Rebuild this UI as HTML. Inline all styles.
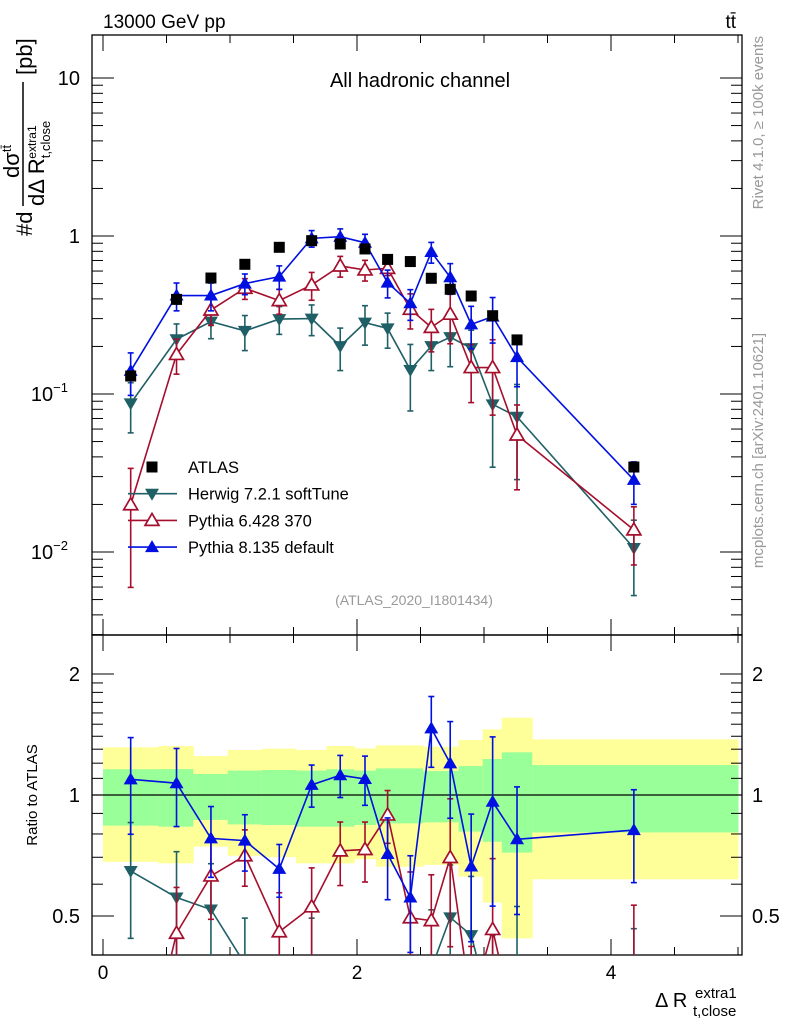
<!DOCTYPE html>
<html><head><meta charset="utf-8"><style>
html,body{margin:0;padding:0;background:#fff;width:786px;height:1024px;overflow:hidden;}
svg{display:block;font-family:"Liberation Sans",Arial,sans-serif;}
</style></head><body>
<svg id="chart" width="786" height="1024" viewBox="0 0 786 1024" xmlns="http://www.w3.org/2000/svg">
<defs>
<clipPath id="clipMain"><rect x="92" y="35" width="650" height="600"/></clipPath>
<clipPath id="clipRatio"><rect x="92" y="635" width="650" height="320"/></clipPath>
</defs>
<g id="bands" clip-path="url(#clipRatio)"></g>
<g id="axes"></g>
<g id="series-main" clip-path="url(#clipMain)"></g>
<g id="series-ratio" clip-path="url(#clipRatio)"></g>
<text x="103" y="28" font-size="19">13000 GeV pp</text>
<text x="736" y="28" font-size="19" text-anchor="end">tt̄</text>
<text x="420" y="87" font-size="20" text-anchor="middle">All hadronic channel</text>
<text x="414" y="605" font-size="14" fill="#999" text-anchor="middle">(ATLAS_2020_I1801434)</text>
<g transform="rotate(-90)" fill="#999" font-size="15">
<text x="-36" y="763" text-anchor="end">Rivet 4.1.0, ≥ 100k events</text>
<text x="-333" y="763" text-anchor="end">mcplots.cern.ch [arXiv:2401.10621]</text>
</g>
<g transform="rotate(-90)" font-size="22">
<text x="-236" y="32">#d</text>
<line x1="-206" x2="-82" y1="23" y2="23" stroke="#000" stroke-width="1.5"/>
<text x="-178" y="19">dσ<tspan font-size="13" dy="-8">tt̄</tspan></text>
<text x="-206" y="44">dΔ R<tspan font-size="13" dy="6">t,close</tspan><tspan font-size="12" dy="-14" dx="-38">extra1</tspan></text>
<text x="-75" y="32">[pb]</text>
</g>
<text transform="translate(37,795) rotate(-90)" font-size="15" text-anchor="middle">Ratio to ATLAS</text>
<g font-size="20">
<text x="655" y="1007">Δ R</text>
<text x="695" y="998" font-size="15">extra1</text>
<text x="693" y="1016" font-size="15">t,close</text>
</g>
<g id="legend"></g>
</svg>
<script>
// ---- data ----
const xVals = [0.218,0.579,0.85,1.117,1.388,1.643,1.868,2.063,2.241,2.42,2.585,2.734,2.899,3.068,3.26,4.18];
const atlasVals = [0.130,0.397,0.542,0.662,0.848,0.934,0.89,0.828,0.711,0.689,0.54,0.46,0.417,0.313,0.22,0.0345];
const herwigVals = [0.0873,0.222,0.287,0.251,0.298,0.30,0.201,0.283,0.26,0.142,0.201,0.229,0.195,0.086,0.0718,0.0106];
const herwigErr = [0.35,0.25,0.22,0.25,0.2,0.22,0.3,0.28,0.25,0.45,0.3,0.35,0.3,0.6,0.6,0.5];
const py6Vals = [0.0199,0.178,0.34,0.467,0.39,0.49,0.646,0.61,0.624,0.344,0.264,0.32,0.147,0.147,0.055,0.0138];
const py6Err = [0.7,0.25,0.2,0.15,0.18,0.2,0.15,0.15,0.1,0.25,0.3,0.35,0.4,0.5,0.55,0.4];
const py8Vals = [0.14,0.42,0.42,0.50,0.553,0.966,0.99,0.907,0.507,0.375,0.792,0.548,0.276,0.309,0.171,0.0286];
const py8Err = [0.3,0.2,0.2,0.15,0.17,0.12,0.12,0.13,0.2,0.22,0.15,0.22,0.3,0.32,0.35,0.3];
const ratioHerwig = [0.647,0.556,0.519,0.38,0.35,0.38,0.23,0.3,0.3,0.2,0.37,0.496,0.448,0.28,0.33,0.31];
const ratioHerwigErr = [0.32,0.3,0.3,0.3,0.3,0.3,0.3,0.3,0.3,0.4,0.4,0.35,0.4,0.6,0.6,0.5];
const ratioPy6 = [0.15,0.453,0.629,0.706,0.457,0.527,0.726,0.732,0.892,0.495,0.487,0.699,0.3,0.463,0.25,0.38];
const ratioPy6Err = [0.7,0.3,0.22,0.16,0.25,0.25,0.18,0.17,0.15,0.3,0.3,0.4,0.4,0.5,0.55,0.4];
const ratioPy8 = [1.094,1.07,0.78,0.77,0.655,1.06,1.12,1.096,0.713,0.556,1.465,1.199,0.664,0.962,0.776,0.818];
const ratioPy8Err = [0.27,0.22,0.2,0.16,0.15,0.12,0.12,0.14,0.23,0.27,0.2,0.27,0.35,0.45,0.35,0.26];
const bandEdges = [0,0.436,0.711,0.982,1.25,1.52,1.76,1.98,2.15,2.52,2.80,2.99,3.14,3.38,5.0];
const yellowHi = [1.314,1.324,1.25,1.294,1.304,1.294,1.324,1.306,1.329,1.319,1.37,1.456,1.557,1.375];
const yellowLo = [0.682,0.676,0.744,0.706,0.70,0.676,0.676,0.692,0.663,0.67,0.626,0.54,0.44,0.617];
const greenHi = [1.159,1.16,1.128,1.15,1.154,1.15,1.159,1.15,1.165,1.147,1.18,1.229,1.277,1.187];
const greenLo = [0.839,0.834,0.867,0.845,0.842,0.834,0.834,0.842,0.85,0.855,0.811,0.765,0.719,0.807];
const xTickLabels = ["0","2","4"];
const mainTickLabels = [{v:10,t:"10"},{v:1,t:"1"},{v:0.1,t:"10",e:"−1"},{v:0.01,t:"10",e:"−2"}];
const ratioTickLabels = [{v:2,t:"2"},{v:1,t:"1"},{v:0.5,t:"0.5"}];

// ---- scales ----
const L=92,R=742,MT=35,MB=635,RB=955;
const X=d=>103+127*d;
const Y=v=>236-158*Math.log10(v);
const YR=r=>795-402*Math.log10(r);
const NS="http://www.w3.org/2000/svg";
function mk(tag,attrs,parent){const e=document.createElementNS(NS,tag);for(const k in attrs)e.setAttribute(k,attrs[k]);parent.appendChild(e);return e;}
const bands=document.getElementById('bands'),axes=document.getElementById('axes');
const gm=document.getElementById('series-main'),gr=document.getElementById('series-ratio'),leg=document.getElementById('legend');

for(let i=0;i<yellowHi.length;i++){
  const x0=X(bandEdges[i]),x1=X(bandEdges[i+1]);
  const y=mk('rect',{x:x0,y:YR(yellowHi[i]),width:x1-x0+0.5,height:YR(yellowLo[i])-YR(yellowHi[i]),fill:'#ffff99'},bands);
  
  
  const g=mk('rect',{x:x0,y:YR(greenHi[i]),width:x1-x0+0.5,height:YR(greenLo[i])-YR(greenHi[i]),fill:'#99ff99'},bands);
  
  
}
const ul=mk('line',{x1:L,x2:R,y1:YR(1),y2:YR(1),stroke:'#000','stroke-width':1.2},axes);



const f1=mk('rect',{x:L,y:MT,width:R-L,height:MB-MT,fill:'none',stroke:'#000','stroke-width':1.3},axes);


const f2=mk('rect',{x:L,y:MB,width:R-L,height:RB-MB,fill:'none',stroke:'#000','stroke-width':1.3},axes);



for(let k=0;k<=10;k++){
  const d=k*0.5,x=X(d),len=(k%4===0)?16:8;
  [[MT,1],[MB,-1],[MB,1],[RB,-1]].forEach(([y0,s])=>{mk('line',{x1:x,x2:x,y1:y0,y2:y0+s*len,stroke:'#000','stroke-width':1},axes);});
}
xTickLabels.forEach((t,i)=>{const e=mk('text',{x:X(i*2),y:979,'font-size':19,'text-anchor':'middle'},axes);e.textContent=t;
  
  });
for(let p=-3;p<=1;p++){for(let m=1;m<=9;m++){const v=m*Math.pow(10,p),y=Y(v);if(y<MT||y>MB)continue;const len=m===1?22:11;
  mk('line',{x1:L,x2:L+len,y1:y,y2:y,stroke:'#000'},axes);mk('line',{x1:R,x2:R-len,y1:y,y2:y,stroke:'#000'},axes);}}
mainTickLabels.forEach(o=>{const e=mk('text',{x:o.e?68:80,y:Y(o.v)+7,'font-size':20,'text-anchor':'end'},axes);e.textContent=o.t;
  if(o.e){const s=mk('tspan',{'font-size':13,dy:-9},e);s.textContent=o.e;}
  
  });
[0.4,0.5,0.6,0.7,0.8,0.9,1,1.1,1.2,1.3,1.4,1.5,1.6,1.7,1.8,1.9,2].forEach(v=>{const y=YR(v);const len=(v===0.5||v===1||v===2)?22:11;
  mk('line',{x1:L,x2:L+len,y1:y,y2:y,stroke:'#000'},axes);mk('line',{x1:R,x2:R-len,y1:y,y2:y,stroke:'#000'},axes);});
ratioTickLabels.forEach(o=>{
  const e=mk('text',{x:80,y:YR(o.v)+7,'font-size':20,'text-anchor':'end'},axes);e.textContent=o.t;
  
  
  const e2=mk('text',{x:752,y:YR(o.v)+7,'font-size':20},axes);e2.textContent=o.t;
  
  });

function marker(type,x,y,col,parent){
  let e;
  if(type==='sq')e=mk('rect',{x:x-5.5,y:y-5.5,width:11,height:11,fill:col},parent);
  else if(type==='up')e=mk('polygon',{points:`${x-7},${y+5} ${x+7},${y+5} ${x},${y-7}`,fill:col},parent);
  else if(type==='down')e=mk('polygon',{points:`${x-7},${y-5} ${x+7},${y-5} ${x},${y+7}`,fill:col},parent);
  else e=mk('polygon',{points:`${x-7},${y+5} ${x+7},${y+5} ${x},${y-7}`,fill:'#fff',stroke:col,'stroke-width':1.7},parent);
  return e;
}
function series(vals,errs,col,type,ys,parent,name){
  const pts=vals.map((v,i)=>X(xVals[i])+','+ys(v)).join(' ');
  const pl=mk('polyline',{points:pts,fill:'none',stroke:col,'stroke-width':1.6},parent);
  
  
  vals.forEach((v,i)=>{
    const x=X(xVals[i]);
    if(errs){const y1=ys(v*(1+errs[i])),y2=ys(Math.max(v*(1-errs[i]),1e-4));
      mk('line',{x1:x,x2:x,y1:y1,y2:y2,stroke:col,'stroke-width':1.6},parent);
      mk('line',{x1:x-3,x2:x+3,y1:y1,y2:y1,stroke:col,'stroke-width':1.6},parent);
      mk('line',{x1:x-3,x2:x+3,y1:y2,y2:y2,stroke:col,'stroke-width':1.6},parent);}
    const m=marker(type,x,ys(v),col,parent);
    
    
  });
}
const cH='#1f5f66',c6='#a50f2d',c8='#0010e0';
series(herwigVals,herwigErr,cH,'down',Y,gm,'herwig');
series(py6Vals,py6Err,c6,'open',Y,gm,'pythia6');
series(py8Vals,py8Err,c8,'up',Y,gm,'pythia8');
atlasVals.forEach((v,i)=>{const m=marker('sq',X(xVals[i]),Y(v),'#000',gm);
  
  });
series(ratioHerwig,ratioHerwigErr,cH,'down',YR,gr,'herwig-ratio');
series(ratioPy6,ratioPy6Err,c6,'open',YR,gr,'pythia6-ratio');
series(ratioPy8,ratioPy8Err,c8,'up',YR,gr,'pythia8-ratio');

const legItems=[['ATLAS','#000','sq',false],['Herwig 7.2.1 softTune',cH,'down',true],['Pythia 6.428 370',c6,'open',true],['Pythia 8.135 default',c8,'up',true]];
legItems.forEach((it,i)=>{
  const y=467+26.7*i;
  const g=mk('g',{},leg);
  
  
  if(it[3])mk('line',{x1:128,x2:177,y1:y,y2:y,stroke:it[1],'stroke-width':1.6},g);
  marker(it[2],152,y,it[1],g);
  const t=mk('text',{x:188,y:y+6,'font-size':16.5},g);t.textContent=it[0];
});
</script>
</body></html>
